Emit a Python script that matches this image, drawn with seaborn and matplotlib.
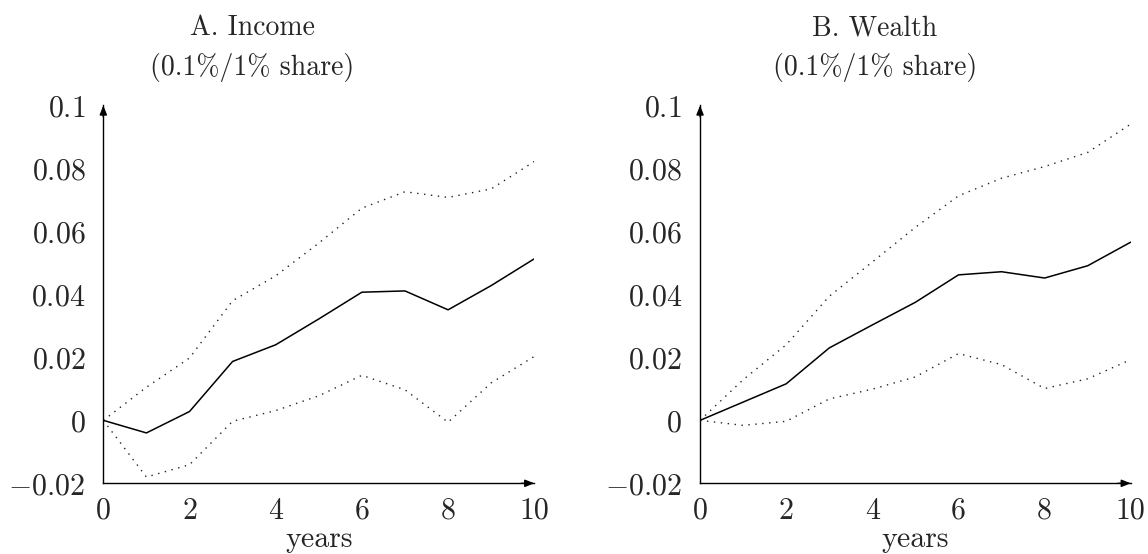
import numpy as np
import matplotlib

matplotlib.use('Agg')
import matplotlib.pyplot as plt
import seaborn as sns

years = [0, 1, 2, 3, 4, 5, 6, 7, 8, 9, 10]

income_est = [0, -0.0040, 0.0028, 0.0187, 0.0240, 0.0322, 0.0407, 0.0411, 0.0351, 0.0428, 0.0513]
income_hi = [0, 0.0105, 0.0198, 0.0380, 0.0459, 0.0563, 0.0674, 0.0726, 0.0708, 0.0735, 0.0822]
income_lo = [0, -0.0180, -0.0141, -0.0003, 0.0031, 0.0078, 0.0143, 0.0097, -0.0006, 0.0119, 0.0203]

wealth_est = [0, 0.0058, 0.0116, 0.0230, 0.0303, 0.0375, 0.0462, 0.0472, 0.0452, 0.0491, 0.0566]
wealth_hi = [0, 0.0129, 0.0240, 0.0394, 0.0503, 0.0613, 0.0713, 0.0769, 0.0806, 0.0851, 0.0941]
wealth_lo = [0, -0.0016, -0.0003, 0.0068, 0.0099, 0.0138, 0.0212, 0.0177, 0.0101, 0.0132, 0.0193]

xticks = [0, 2, 4, 6, 8, 10]
yticks = [-0.02, 0, 0.02, 0.04, 0.06, 0.08, 0.1]
ytick_labels = ['-0.02', '0', '0.02', '0.04', '0.06', '0.08', '0.1']

titles = ['A. Income\n(0.1%/1% share)', 'B. Wealth\n(0.1%/1% share)']
xlabel = 'years'

sns.set_style('white')
plt.rcParams['font.family'] = ['cmr10']
plt.rcParams['mathtext.fontset'] = 'cm'
plt.rcParams['axes.formatter.use_mathtext'] = True

FS = 21.5
TFS = 20

W, H = 1148, 554
fig = plt.figure(figsize=(W / 100, H / 100), dpi=100)
axes = [fig.add_axes([0.090, 0.1276, 0.3754, 0.682]),
        fig.add_axes([0.6098, 0.1276, 0.3752, 0.682])]
title_x = [252 / W, 875 / W]
title_baselines = [35, 75]  # pixels from the top

panels = [(income_est, income_hi, income_lo), (wealth_est, wealth_hi, wealth_lo)]

for i, (ax, (est, hi, lo)) in enumerate(zip(axes, panels)):
    sns.lineplot(x=years, y=hi, ax=ax, color='#222222', linestyle=(0, (1, 4)), lw=1.0)
    sns.lineplot(x=years, y=lo, ax=ax, color='#222222', linestyle=(0, (1, 4)), lw=1.0)
    sns.lineplot(x=years, y=est, ax=ax, color='black', lw=1.1)

    ax.set_xlim(0, 10)
    ax.set_ylim(-0.02, 0.1)
    ax.set_xticks(xticks)
    ax.set_xticklabels([str(t) for t in xticks], fontsize=FS)
    ax.set_yticks(yticks)
    ax.set_yticklabels(['$' + t + '$' for t in ytick_labels], fontsize=FS)
    ax.tick_params(direction='inout', length=8, width=0.6, color='#777777')
    ax.tick_params(axis='y', pad=9)
    ax.tick_params(axis='x', pad=6)

    for s in ['top', 'right']:
        ax.spines[s].set_visible(False)
    for s in ['left', 'bottom']:
        ax.spines[s].set_linewidth(1.0)
        ax.spines[s].set_color('black')

    # arrow heads on the axis lines
    ax.annotate('', xy=(1, 0), xytext=(0.97, 0), xycoords='axes fraction',
                arrowprops=dict(arrowstyle='-|>,head_length=0.55,head_width=0.22',
                                color='black', lw=1.0, shrinkA=0, shrinkB=0))
    ax.annotate('', xy=(0, 1), xytext=(0, 0.97), xycoords='axes fraction',
                arrowprops=dict(arrowstyle='-|>,head_length=0.55,head_width=0.22',
                                color='black', lw=1.0, shrinkA=0, shrinkB=0))

    ax.set_xlabel(xlabel, fontsize=FS, labelpad=1)
    ax.set_ylabel('')
    for line, yb in zip(titles[i].split('\n'), title_baselines):
        fig.text(title_x[i], 1 - yb / H, line, fontsize=TFS, ha='center', va='baseline')

fig.savefig('out.png', dpi=100)
